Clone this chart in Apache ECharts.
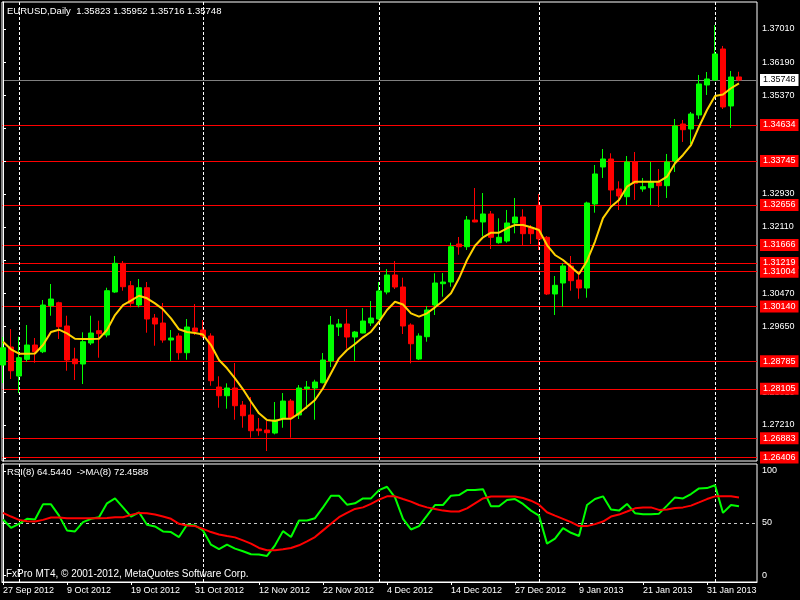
<!DOCTYPE html>
<html><head><meta charset="utf-8">
<script src="https://cdn.jsdelivr.net/npm/echarts@6/dist/echarts.min.js"></script>
<style>html,body{margin:0;padding:0;background:#000;}#c{width:800px;height:600px;}</style>
</head><body><div id="c"></div>
<script>
const symbolName = 'EURUSD,Daily';
const indicatorText = 'RSI(8) 64.5440  ->MA(8) 72.4588';
const copyright = 'FxPro MT4, \u00A9 2001-2012, MetaQuotes Software Corp.';
const dates = ['27 Sep 2012','28 Sep 2012','1 Oct 2012','2 Oct 2012','3 Oct 2012','4 Oct 2012','5 Oct 2012','8 Oct 2012','9 Oct 2012','10 Oct 2012','11 Oct 2012','12 Oct 2012','15 Oct 2012','16 Oct 2012','17 Oct 2012','18 Oct 2012','19 Oct 2012','22 Oct 2012','23 Oct 2012','24 Oct 2012','25 Oct 2012','26 Oct 2012','29 Oct 2012','30 Oct 2012','31 Oct 2012','1 Nov 2012','2 Nov 2012','5 Nov 2012','6 Nov 2012','7 Nov 2012','8 Nov 2012','9 Nov 2012','12 Nov 2012','13 Nov 2012','14 Nov 2012','15 Nov 2012','16 Nov 2012','19 Nov 2012','20 Nov 2012','21 Nov 2012','22 Nov 2012','23 Nov 2012','26 Nov 2012','27 Nov 2012','28 Nov 2012','29 Nov 2012','30 Nov 2012','3 Dec 2012','4 Dec 2012','5 Dec 2012','6 Dec 2012','7 Dec 2012','10 Dec 2012','11 Dec 2012','12 Dec 2012','13 Dec 2012','14 Dec 2012','17 Dec 2012','18 Dec 2012','19 Dec 2012','20 Dec 2012','21 Dec 2012','24 Dec 2012','26 Dec 2012','27 Dec 2012','28 Dec 2012','31 Dec 2012','2 Jan 2013','3 Jan 2013','4 Jan 2013','7 Jan 2013','8 Jan 2013','9 Jan 2013','10 Jan 2013','11 Jan 2013','14 Jan 2013','15 Jan 2013','16 Jan 2013','17 Jan 2013','18 Jan 2013','21 Jan 2013','22 Jan 2013','23 Jan 2013','24 Jan 2013','25 Jan 2013','28 Jan 2013','29 Jan 2013','30 Jan 2013','31 Jan 2013','1 Feb 2013','4 Feb 2013','5 Feb 2013','6 Feb 2013'];
const open = [1.28694,1.29140,1.28422,1.28835,1.29189,1.29023,1.30162,1.30236,1.29660,1.28843,1.28719,1.29239,1.29543,1.29437,1.30501,1.31211,1.30657,1.30179,1.30607,1.29857,1.29734,1.29313,1.29412,1.28999,1.29610,1.29561,1.29412,1.28150,1.27934,1.28125,1.27704,1.27457,1.27110,1.27086,1.27011,1.27375,1.27803,1.27457,1.28108,1.28125,1.28256,1.28793,1.29635,1.29709,1.29387,1.29486,1.29734,1.29833,1.30501,1.30922,1.30625,1.29684,1.28843,1.29395,1.30179,1.30706,1.30749,1.31689,1.31622,1.32283,1.32234,1.32432,1.31721,1.31763,1.32209,1.32357,1.32092,1.32647,1.31855,1.30452,1.30724,1.31145,1.30798,1.30600,1.32679,1.33595,1.33793,1.33050,1.32860,1.33719,1.33050,1.33082,1.33216,1.33132,1.33743,1.34659,1.34535,1.34882,1.35624,1.35748,1.36515,1.35105,1.35823];
const high = [1.29387,1.29585,1.29395,1.29684,1.29363,1.30303,1.30699,1.30261,1.29914,1.29122,1.29504,1.29914,1.29791,1.30607,1.31392,1.31268,1.30773,1.30823,1.30749,1.29957,1.30229,1.29561,1.29479,1.29833,1.30204,1.29808,1.29479,1.28415,1.28241,1.28744,1.27803,1.27902,1.27383,1.27308,1.27779,1.28001,1.27853,1.28199,1.28298,1.28330,1.28991,1.29907,1.29833,1.30080,1.29536,1.30105,1.30278,1.30749,1.31070,1.31268,1.30855,1.29726,1.29479,1.30155,1.30964,1.30971,1.31721,1.31862,1.32382,1.33075,1.32951,1.32506,1.32325,1.32531,1.32828,1.32548,1.32159,1.32927,1.31887,1.30897,1.31211,1.31392,1.30979,1.32736,1.33644,1.34040,1.33934,1.33241,1.33867,1.33966,1.33323,1.33719,1.33545,1.33917,1.34783,1.34758,1.34956,1.35872,1.35946,1.37109,1.36590,1.35971,1.35952];
const low = [1.28249,1.28348,1.28001,1.28776,1.28751,1.28990,1.29914,1.29338,1.28553,1.28323,1.28224,1.29189,1.28875,1.29380,1.30480,1.30533,1.30122,1.30122,1.29494,1.29172,1.29246,1.28793,1.28825,1.28825,1.29437,1.29363,1.28182,1.27637,1.27613,1.27340,1.27142,1.26895,1.26944,1.26566,1.26979,1.27142,1.26895,1.27358,1.27605,1.27340,1.28241,1.28645,1.29412,1.29098,1.28793,1.29479,1.29660,1.29808,1.30444,1.30575,1.29462,1.28736,1.28818,1.29271,1.29932,1.30385,1.30632,1.31424,1.31541,1.32226,1.31887,1.31565,1.31696,1.31721,1.31954,1.31657,1.31689,1.31541,1.30427,1.29932,1.30137,1.30533,1.30335,1.30360,1.32464,1.33323,1.32654,1.32531,1.32654,1.32778,1.32983,1.32654,1.32605,1.32828,1.33471,1.34214,1.34164,1.34783,1.35377,1.35723,1.35030,1.34560,1.35716];
const close = [1.29122,1.28553,1.28875,1.29189,1.29023,1.30179,1.30328,1.29642,1.28818,1.28726,1.29271,1.29486,1.29469,1.30533,1.31211,1.30632,1.30221,1.30607,1.29833,1.29709,1.29313,1.29363,1.28999,1.29635,1.29528,1.29412,1.28306,1.27934,1.28125,1.27687,1.27439,1.27068,1.27068,1.27019,1.27333,1.27803,1.27390,1.28125,1.28150,1.28274,1.28818,1.29684,1.29709,1.29387,1.29511,1.29783,1.29857,1.30526,1.30922,1.30625,1.29660,1.29221,1.29412,1.30056,1.30724,1.30749,1.31622,1.31622,1.32283,1.32234,1.32432,1.31855,1.31855,1.32209,1.32357,1.31944,1.31944,1.31813,1.30452,1.30667,1.31145,1.30781,1.30600,1.32704,1.33422,1.33793,1.33026,1.32877,1.33719,1.33191,1.33107,1.33216,1.33132,1.33719,1.34610,1.34518,1.34907,1.35649,1.35773,1.36392,1.35080,1.35822,1.35748];
const ma8 = [1.29271,1.29083,1.28974,1.28974,1.28979,1.29189,1.29511,1.29568,1.29479,1.29345,1.29338,1.29338,1.29345,1.29561,1.29932,1.30179,1.30286,1.30409,1.30345,1.30221,1.30073,1.29850,1.29578,1.29511,1.29486,1.29449,1.29189,1.28818,1.28613,1.28365,1.28093,1.27786,1.27499,1.27333,1.27308,1.27365,1.27365,1.27499,1.27662,1.27828,1.28118,1.28489,1.28860,1.29066,1.29214,1.29380,1.29518,1.29766,1.30056,1.30261,1.30192,1.29974,1.29890,1.29974,1.30122,1.30278,1.30469,1.30840,1.31293,1.31647,1.31855,1.31969,1.31969,1.32078,1.32159,1.32159,1.32102,1.32036,1.31664,1.31417,1.31293,1.31127,1.30947,1.31270,1.31750,1.32330,1.32612,1.32778,1.33107,1.33231,1.33231,1.33231,1.33231,1.33355,1.33686,1.33892,1.34139,1.34592,1.35006,1.35352,1.35389,1.35543,1.35666];
const rsi8 = [53.3,45.4,49.2,54.0,53.3,67.9,67.9,57.1,42.9,41.9,50.8,54.0,55.6,68.9,73.6,65.0,56.2,60.3,48.3,46.7,41.9,41.3,36.5,48.3,47.6,42.9,29.2,24.8,29.2,25.4,22.9,20.0,19.7,18.4,28.6,42.2,36.5,52.4,52.4,54.6,65.0,76.2,76.2,67.6,68.9,73.6,73.6,81.6,84.8,74.6,54.0,43.8,47.0,57.1,67.3,67.3,76.2,76.8,81.6,81.6,82.5,66.0,66.0,72.1,73.0,68.3,61.9,57.1,30.2,35.0,45.1,40.6,37.5,67.3,73.0,75.6,62.9,61.9,68.3,59.4,58.4,58.4,59.0,66.7,74.6,73.6,77.8,83.2,83.5,86.3,59.7,67.3,66.0];
const rsiMa8 = [59.7,56.2,53.0,51.7,51.4,53.0,55.2,55.2,54.6,54.6,54.6,54.6,54.6,54.9,55.6,55.6,57.8,59.7,59.4,58.1,56.2,54.0,49.2,47.6,47.0,44.4,41.3,39.0,37.5,36.2,33.3,30.2,26.0,23.8,23.8,24.8,26.0,28.6,32.4,36.5,42.9,49.2,55.6,59.7,63.5,65.0,68.3,72.4,75.6,75.6,73.0,70.5,67.3,65.0,63.5,61.9,61.0,61.0,64.1,68.9,73.6,75.5,75.5,75.5,75.5,74.0,71.4,67.6,60.3,57.1,54.0,50.8,47.0,47.0,48.9,51.4,56.2,58.1,61.0,64.1,65.0,65.0,62.6,62.9,64.4,65.0,66.7,69.8,73.0,75.6,75.6,75.6,74.6];
const levelLines = [1.34634,1.33745,1.32656,1.31666,1.31219,1.31004,1.30140,1.28785,1.28105,1.26883,1.26406];
const priceTicks = [1.37010,1.36190,1.35370,1.34550,1.33730,1.32930,1.32110,1.31290,1.30470,1.29650,1.28830,1.28010,1.27210,1.26390];
const rsiTicks = [0,50,100];
const rsiLevel = [50];

const N = dates.length;
const FONT = '"Liberation Sans", Arial, sans-serif';
const last = N - 1;
const f5 = v => Number(v).toFixed(5);
const idx = dates.map((d, i) => i);
const labelIdx = idx.filter(i => i % 8 === 0);
const monthOf = s => s.split(' ').slice(1).join(' ');
const monthStarts = idx.filter(i => i > 0 && monthOf(dates[i]) !== monthOf(dates[i - 1]));

const X_MIN = -0.125, X_MAX = 94.25;
const Y_MIN = 1.26319, Y_MAX = 1.37678;
const R_MIN = -6.667, R_MAX = 106.667;

const vDash = { color: '#ffffff', width: 1, type: [3, 2] };
const candleData = idx.map(i => [i, open[i], close[i], low[i], high[i]]);
const hiddenAxis = { axisLine: { show: false }, axisTick: { show: false }, axisLabel: { show: false } };

function guideX(grid, values) {
  return Object.assign({ gridIndex: grid, type: 'value', position: 'top', min: X_MIN, max: X_MAX }, hiddenAxis, {
    axisTick: { show: false, customValues: values },
    splitLine: { show: true, lineStyle: vDash } });
}
function guideY(grid, min, max, values, lineStyle, label) {
  return { gridIndex: grid, type: 'value', position: 'right', min: min, max: max,
    axisLine: { show: false }, axisTick: { show: false, customValues: values },
    axisLabel: label ? Object.assign({ customValues: values, formatter: v => f5(v), fontSize: 9, fontFamily: FONT, margin: 3, padding: [2, 3, 1, 3] }, label) : { show: false },
    splitLine: { show: true, lineStyle: lineStyle } };
}

const chart = echarts.init(document.getElementById('c'), null, { renderer: 'canvas' });
chart.setOption({
  animation: false,
  backgroundColor: '#000000',
  grid: [
    { left: 2, top: 2, width: 755, height: 459, outerBoundsMode: 'none', containLabel: false, show: true, borderColor: '#ffffff', borderWidth: 1, backgroundColor: 'transparent' },
    { left: 2, top: 464, width: 755, height: 118, outerBoundsMode: 'none', containLabel: false, show: true, borderColor: '#ffffff', borderWidth: 1, backgroundColor: 'transparent' }
  ],
  xAxis: [
    guideX(0, monthStarts),
    { gridIndex: 1, type: 'value', position: 'bottom', min: X_MIN, max: X_MAX,
      axisLine: { show: true, onZero: false, lineStyle: { color: '#ffffff' } },
      axisTick: { show: true, customValues: labelIdx, length: 3, lineStyle: { color: '#ffffff' } },
      axisLabel: { customValues: labelIdx, formatter: v => dates[Math.round(v)], align: 'left', color: '#ffffff', fontSize: 9, fontFamily: FONT, margin: 4 },
      splitLine: { show: false } },
    guideX(1, monthStarts)
  ],
  yAxis: [
    { gridIndex: 0, type: 'value', position: 'right', min: Y_MIN, max: Y_MAX,
      axisLine: { show: true, lineStyle: { color: '#ffffff' } },
      axisTick: { show: true, customValues: priceTicks, length: 3, lineStyle: { color: '#ffffff' } },
      axisLabel: { customValues: priceTicks, formatter: v => f5(v), color: '#ffffff', fontSize: 9, fontFamily: FONT, margin: 5 },
      splitLine: { show: false } },
    { gridIndex: 1, type: 'value', position: 'right', min: R_MIN, max: R_MAX,
      axisLine: { show: true, lineStyle: { color: '#ffffff' } },
      axisTick: { show: true, customValues: rsiTicks, length: 3, lineStyle: { color: '#ffffff' } },
      axisLabel: { customValues: rsiTicks, formatter: v => String(v), color: '#ffffff', fontSize: 9, fontFamily: FONT, margin: 5 },
      splitLine: { show: false } },
    guideY(0, Y_MIN, Y_MAX, levelLines, { color: '#ff0000', width: 1 }, { color: '#ffffff', backgroundColor: '#ff0000' }),
    guideY(0, Y_MIN, Y_MAX, [close[last]], { color: '#808080', width: 1 }, { color: '#000000', backgroundColor: '#ffffff' }),
    guideY(1, R_MIN, R_MAX, rsiLevel, { color: '#c8c8c8', width: 1, type: [3, 3] }, null)
  ],
  series: [
    { type: 'candlestick', xAxisIndex: 0, yAxisIndex: 0, barWidth: 5, data: candleData,
      itemStyle: { color: '#00ff00', color0: '#ff0000', borderColor: '#00ff00', borderColor0: '#ff0000', borderWidth: 1 } },
    { type: 'line', xAxisIndex: 0, yAxisIndex: 0, data: idx.map(i => [i, ma8[i]]), showSymbol: false, symbol: 'none',
      lineStyle: { color: '#ffd200', width: 2 } },
    { type: 'line', xAxisIndex: 1, yAxisIndex: 1, data: idx.map(i => [i, rsi8[i]]), showSymbol: false, symbol: 'none',
      lineStyle: { color: '#00ff00', width: 2 } },
    { type: 'line', xAxisIndex: 1, yAxisIndex: 1, data: idx.map(i => [i, rsiMa8[i]]), showSymbol: false, symbol: 'none',
      lineStyle: { color: '#ff0000', width: 2 } }
  ],
  graphic: [
    { type: 'text', left: 7, top: 6, style: { text: symbolName + '  ' + [open[last], high[last], low[last], close[last]].map(f5).join(' '), fill: '#ffffff', font: '9.5px ' + FONT } },
    { type: 'text', left: 7, top: 467, style: { text: indicatorText, fill: '#ffffff', font: '9.5px ' + FONT } },
    { type: 'text', left: 6, top: 569, style: { text: copyright, fill: '#ffffff', font: '10px ' + FONT } }
  ]
});
</script></body></html>
